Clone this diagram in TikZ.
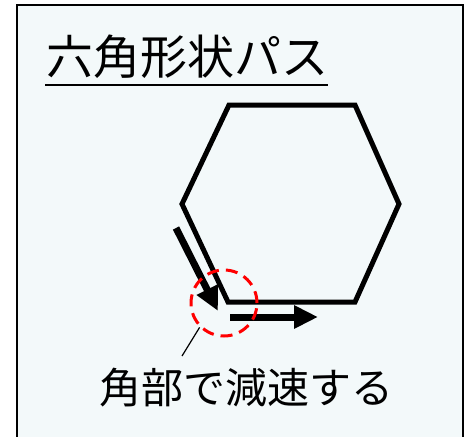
\documentclass[tikz,border=0pt]{standalone}
\usepackage{fontspec}
\newfontfamily\jp{Noto Sans CJK JP}
\usetikzlibrary{arrows.meta}
\definecolor{bgc}{RGB}{243,249,250}
\begin{document}
\begin{tikzpicture}[x=1pt,y=-1pt,
  frame/.style={draw=black,line width=2pt,fill=bgc},
  hexline/.style={draw=black,line width=5pt,line join=miter},
  motion/.style={line width=7pt,-{Triangle[length=24pt,width=22pt]}},
  corner/.style={draw=red,line width=3pt,dash pattern=on 12pt off 7pt},
  label/.style={font=\jp\fontsize{42}{42}\selectfont,inner sep=0pt},
  title/.style={font=\jp\fontsize{47}{47}\selectfont,inner sep=0pt}]
\useasboundingbox (0,0) rectangle (470,436);
\fill[white] (0,0) rectangle (470,436);
\path[frame] (17,5) rectangle (463,445);
\node[title] (t) at (187,57) {六角形状パス};
\draw[line width=2pt] (45,85) -- (328,85);
\coordinate (h1) at (229,105);
\coordinate (h2) at (355,105);
\coordinate (h3) at (399,204);
\coordinate (h4) at (355,302);
\coordinate (h5) at (228,302);
\coordinate (h6) at (182,204);
\path[hexline] (h1) -- (h2) -- (h3) -- (h4) -- (h5) -- (h6) -- cycle;
\coordinate (a1s) at (176,228);
\coordinate (a1e) at (218,311);
\draw[motion] (a1s) -- (a1e);
\coordinate (a2s) at (230,317);
\coordinate (a2e) at (318,317);
\draw[motion] (a2s) -- (a2e);
\node[corner,circle,minimum size=66pt,inner sep=0pt] (c) at (224,303) {};
\node[label] (l) at (246,388) {角部で減速する};
\coordinate (p) at (182,356);
\draw[line width=1.2pt] (p) -- (c.225);
\end{tikzpicture}
\end{document}
